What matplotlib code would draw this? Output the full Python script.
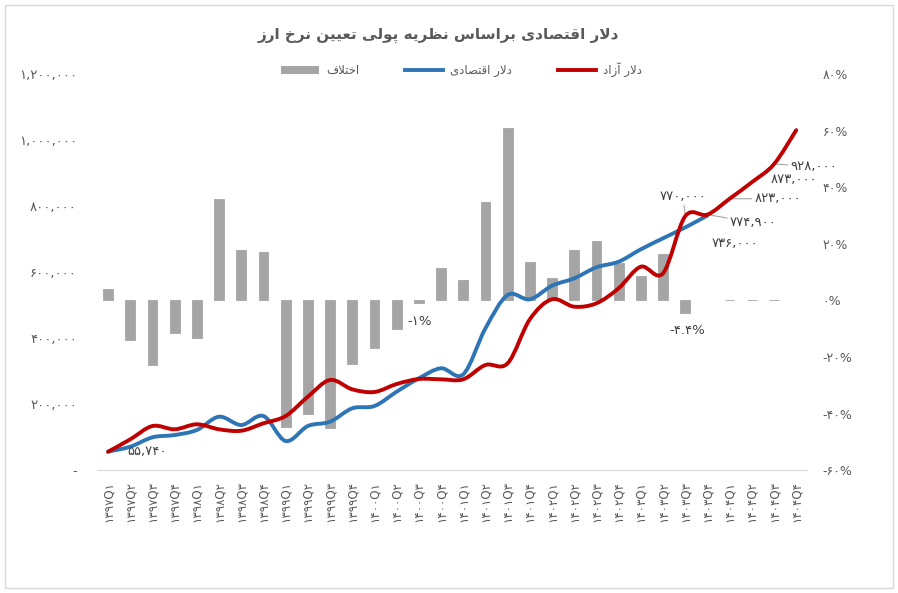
import matplotlib
matplotlib.use("Agg")
import matplotlib.pyplot as plt
import numpy as np
from matplotlib.path import Path
from matplotlib.patches import PathPatch, Rectangle, Patch
from matplotlib.lines import Line2D
from matplotlib.ticker import FuncFormatter, MultipleLocator

# ---- data ----
years = ['1397', '1398', '1399', '1400', '1401', '1402', '1403', '1404']
quarters = ['1', '2', '3', '4']

free_dollar = [55500, 93100, 133500, 123500, 138700, 123500, 119200, 141700,
               163800, 222400, 273100, 244800, 236700, 260900, 276100, 275200,
               275200, 318600, 323700, 457200, 517900, 495500, 505800, 551300,
               616800, 596800, 770000, 774900, 823000, 873000, 928000, 1031000]
econ_dollar = [55740, 70700, 99200, 106200, 121400, 161700, 136500, 163800,
               88000, 133500, 146500, 187200, 194200, 237600, 278200, 308600,
               290400, 429900, 531000, 517900, 559200, 581600, 615000, 632000,
               669600, 703000, 736000, 772000]
gap_pct = [3.9, -14.0, -22.9, -11.6, -13.3, 36.1, 17.7, 17.3,
           -44.8, -40.0, -45.2, -22.4, -16.9, -10.2, -0.8, 11.6,
           7.4, 35.0, 60.9, 13.8, 7.8, 17.7, 21.2, 13.3,
           8.6, 16.6, -4.4, None, 0.0, 0.0, 0.0, None]

title = 'دلار اقتصادی براساس نظریه پولی تعیین نرخ ارز'
lbl_free = 'دلار آزاد'
lbl_econ = 'دلار اقتصادی'
lbl_gap = 'اختلاف'

# ---- persian helpers (matplotlib has no arabic shaping) ----
FORMS = {
    'ا': ('\uFE8D', '\uFE8E', None, None),
    'آ': ('\uFE81', '\uFE82', None, None),
    'ب': ('\uFE8F', '\uFE90', '\uFE91', '\uFE92'),
    'پ': ('\uFB56', '\uFB57', '\uFB58', '\uFB59'),
    'ت': ('\uFE95', '\uFE96', '\uFE97', '\uFE98'),
    'خ': ('\uFEA5', '\uFEA6', '\uFEA7', '\uFEA8'),
    'د': ('\uFEA9', '\uFEAA', None, None),
    'ر': ('\uFEAD', '\uFEAE', None, None),
    'ز': ('\uFEAF', '\uFEB0', None, None),
    'س': ('\uFEB1', '\uFEB2', '\uFEB3', '\uFEB4'),
    'ص': ('\uFEB9', '\uFEBA', '\uFEBB', '\uFEBC'),
    'ظ': ('\uFEC5', '\uFEC6', '\uFEC7', '\uFEC8'),
    'ع': ('\uFEC9', '\uFECA', '\uFECB', '\uFECC'),
    'ف': ('\uFED1', '\uFED2', '\uFED3', '\uFED4'),
    'ق': ('\uFED5', '\uFED6', '\uFED7', '\uFED8'),
    'ل': ('\uFEDD', '\uFEDE', '\uFEDF', '\uFEE0'),
    'ن': ('\uFEE5', '\uFEE6', '\uFEE7', '\uFEE8'),
    'ه': ('\uFEE9', '\uFEEA', '\uFEEB', '\uFEEC'),
    'و': ('\uFEED', '\uFEEE', None, None),
    'ی': ('\uFBFC', '\uFBFD', '\uFBFE', '\uFBFF'),
    'LA': ('\uFEFB', '\uFEFC', None, None),
}


def shape(text):
    chars = []
    i = 0
    while i < len(text):
        if text[i] == 'ل' and i + 1 < len(text) and text[i + 1] == 'ا':
            chars.append('LA')
            i += 2
        else:
            chars.append(text[i])
            i += 1
    out = []
    for i, c in enumerate(chars):
        if c not in FORMS:
            out.append(c)
            continue
        prev_ok = i > 0 and chars[i - 1] in FORMS and FORMS[chars[i - 1]][2] is not None
        next_ok = (i < len(chars) - 1 and chars[i + 1] in FORMS
                   and FORMS[c][2] is not None)
        iso, fin, ini, med = FORMS[c]
        if prev_ok and next_ok:
            out.append(med)
        elif prev_ok:
            out.append(fin)
        elif next_ok:
            out.append(ini)
        else:
            out.append(iso)
    return ''.join(out)[::-1]


def fa(s):
    return str(s).translate(str.maketrans('0123456789', '۰۱۲۳۴۵۶۷۸۹'))


periods = [fa(y + 'Q' + q) for y in years for q in quarters]
x = np.arange(len(periods))

GRAY_TXT = '#595959'
plt.rcParams['font.family'] = ['DejaVu Sans']

fig = plt.figure(figsize=(8.98, 5.93), dpi=100)
ax = fig.add_axes([0.108, 0.2074, 0.791, 0.667])
ax2 = ax.twinx()

# bars: difference (%), right axis
bx = [i for i, v in enumerate(gap_pct) if v is not None]
bv = [gap_pct[i] for i in bx]
ax.bar(bx, bv, width=0.44, color='#a5a5a5', edgecolor='#a5a5a5', linewidth=0.6, zorder=2)
ax.set_ylim(-60, 80)
ax.yaxis.set_major_locator(MultipleLocator(20))
ax.yaxis.tick_right()
ax.yaxis.set_major_formatter(FuncFormatter(lambda v, p: fa('%d%%' % round(v))))
ax.tick_params(axis='y', length=0, pad=11, labelsize=9, labelcolor=GRAY_TXT)

# lines: rial values, left axis (smoothed like excel)
def smooth_path(xs, ys):
    pts = np.column_stack([xs, ys]).astype(float)
    verts = [pts[0]]
    codes = [Path.MOVETO]
    n = len(pts)
    for i in range(n - 1):
        p0, p1 = pts[max(i - 1, 0)], pts[i]
        p2, p3 = pts[i + 1], pts[min(i + 2, n - 1)]
        verts += [p1 + (p2 - p0) / 6, p2 - (p3 - p1) / 6, p2]
        codes += [Path.CURVE4] * 3
    return Path(verts, codes)

ax2.add_patch(PathPatch(smooth_path(x[:len(econ_dollar)], econ_dollar), fill=False,
                        edgecolor='#2e75b6', lw=2.8, capstyle='round', zorder=3))
ax2.add_patch(PathPatch(smooth_path(x, free_dollar), fill=False,
                        edgecolor='#c00000', lw=2.8, capstyle='round', zorder=4))
ax2.set_ylim(0, 1200000)
ax2.yaxis.set_major_locator(MultipleLocator(200000))
ax2.yaxis.tick_left()
ax2.yaxis.set_major_formatter(FuncFormatter(lambda v, p: '-' if v == 0 else fa('{:,}'.format(int(v)))))
ax2.tick_params(axis='y', length=0, pad=14.5, labelsize=9.5, labelcolor=GRAY_TXT)

ax.set_xlim(-0.5, len(periods) - 0.5)
ax.set_xticks(x)
ax.set_xticklabels(periods, rotation=90, fontsize=8.5, color=GRAY_TXT)
ax.tick_params(axis='x', length=0, pad=8)

for a in (ax, ax2):
    for s in ('top', 'left', 'right'):
        a.spines[s].set_visible(False)
    a.spines['bottom'].set_color('#d9d9d9')
ax2.spines['bottom'].set_visible(False)

# data labels
lab = dict(fontsize=9.5, color='#404040', ha='center', va='center', textcoords='offset pixels')
lead = dict(arrowstyle='-', color='#a6a6a6', lw=0.8, shrinkA=0, shrinkB=2)
ax2.annotate(fa('55,740'), (0, econ_dollar[0]), xytext=(39, 0), **lab)
ax2.annotate(fa('770,000'), (26, free_dollar[26]), xytext=(-2, 20), arrowprops=lead, **lab)
ax2.annotate(fa('774,900'), (27, free_dollar[27]), xytext=(46, -8), arrowprops=lead, **lab)
ax2.annotate(fa('736,000'), (26, econ_dollar[26]), xytext=(50, -16), **lab)
ax2.annotate(fa('823,000'), (28, free_dollar[28]), xytext=(48, 0), arrowprops=lead, **lab)
ax2.annotate(fa('873,000'), (29, free_dollar[29]), xytext=(42, 3), **lab)
ax2.annotate(fa('928,000'), (30, free_dollar[30]), xytext=(40, -2), arrowprops=lead, **lab)
ax.annotate('-' + fa('1%'), (14, gap_pct[14]), xytext=(1, -19), **lab)
ax.annotate('-' + fa('4.4%'), (26, gap_pct[26]), xytext=(2, -18), **lab)

fig.text(0.488, 0.94, shape(title), ha='center', va='center', fontsize=11,
         fontweight='bold', color=GRAY_TXT)

handles = [Patch(facecolor='#a5a5a5'),
           Line2D([], [], color='#2e75b6', lw=2.8),
           Line2D([], [], color='#c00000', lw=2.8)]
fig.legend(handles, [shape(lbl_gap), shape(lbl_econ), shape(lbl_free)],
           loc='center', bbox_to_anchor=(0.514, 0.882), ncol=3, frameon=False,
           fontsize=8.5, labelcolor=GRAY_TXT, handlelength=3.2, handletextpad=0.6,
           columnspacing=3.9)

fig.patches.append(Rectangle((0.006, 0.008), 0.988, 0.984, transform=fig.transFigure,
                             fill=False, edgecolor='#d9d9d9', lw=1))

fig.savefig('out.png', dpi=100)
